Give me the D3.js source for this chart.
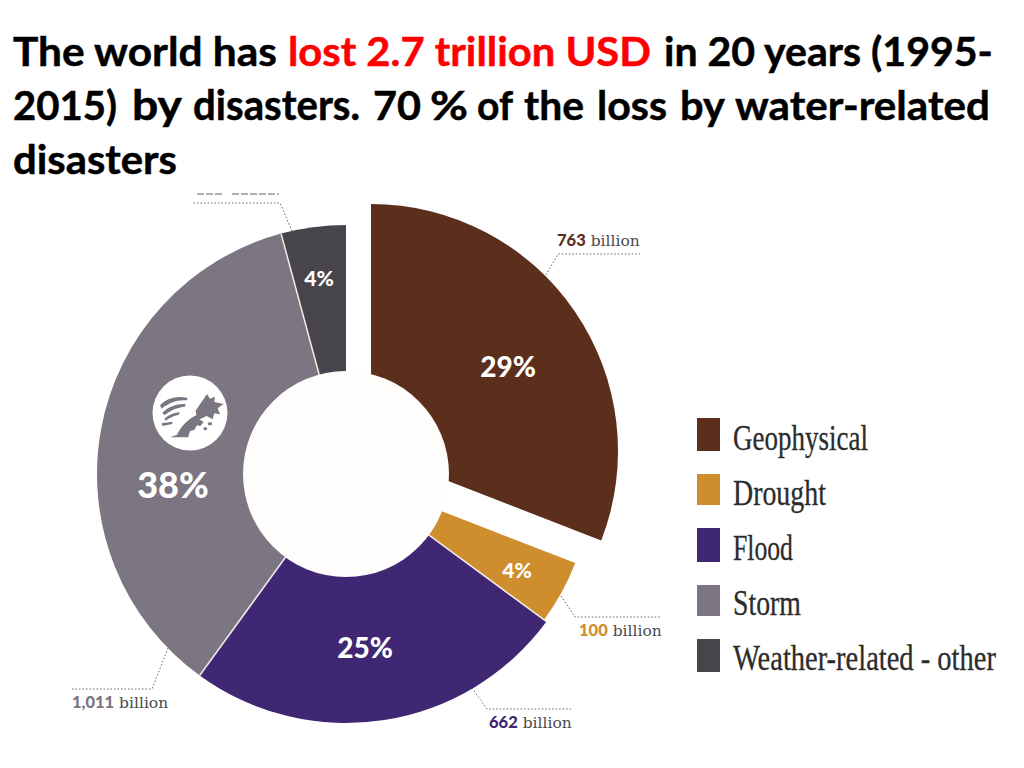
<!DOCTYPE html>
<html>
<head>
<meta charset="utf-8">
<script src="https://cdn.jsdelivr.net/npm/d3@7"></script>
<style>
	html, body { margin: 0; padding: 0; background: #fff; }
	svg { display: block; }
	.title { font-family: Lato, sans-serif; font-weight: 700; font-size: 41px; stroke-width: 0.5; }
	.pct { font-family: Lato, sans-serif; font-weight: 900; fill: #fff; text-anchor: middle; }
	.amount { font-family: "DejaVu Serif", serif; font-size: 15.5px; fill: #4a4a4f; }
	.amount .num { font-family: Lato, sans-serif; font-weight: 900; font-size: 16.5px; }
	.legendText { font-family: "Liberation Serif", serif; font-size: 36px; fill: #2c2c2c; stroke: #2c2c2c; stroke-width: 0.3; }
	.leader { fill: none; stroke: #666; stroke-width: 1; stroke-dasharray: 1.5 2; }
</style>
</head>
<body>
<script>
//values
var categories = ["Geophysical", "Drought", "Flood", "Storm", "Weather-related - other"];
var sliceShares = [30.9, 4.2, 24.9, 35.8, 4.2]; //share of the circle as drawn, %
var pctLabels = ["29%", "4%", "25%", "38%", "4%"];
var billions = ["763", "100", "662", "1,011"]; //fifth label is cut off by the title in the reference
var colors = ["#5c2f1d", "#cf8e2e", "#402773", "#7b7682", "#47454b"];
var titleWords = ["The world has", "lost 2.7 trillion USD", "in 20 years (1995-",
	"2015)", "by", "disasters.", "70", "%", "of", "the", "loss", "by", "water-related",
	"disasters"];
var titleColors = ["#000", "#ff0000", "#000", "#000", "#000", "#000", "#000", "#000", "#000", "#000", "#000", "#000", "#000", "#000"];

window.onload = setChart();

function setChart(){

	var w = 1024;
	var h = 768;

	var svg = d3.select("body")
		.append("svg")
		.attr("width", w)
		.attr("height", h);

	//PIE
	var cx = 346, cy = 474;
	var holeR = 103;
	var sliceR = [247, 246, 249, 249, 249];
	var explode = [25, -23]; //only the first slice is pulled out

	var pie = d3.pie().sort(null)(sliceShares);
	var arc = d3.arc().innerRadius(0);

	var chart = svg.append("g")
		.attr("transform", "translate(" + cx + "," + cy + ")");

	chart.selectAll(".slice")
		.data(pie)
		.enter()
		.append("path")
		.attr("class", "slice")
		.attr("d", function(d, i){ return arc.outerRadius(sliceR[i])(d); })
		.attr("fill", function(d, i){ return colors[i]; })
		.attr("transform", function(d, i){
			return i == 0 ? "translate(" + explode + ")" : null;
		});

	//thin pale lines between the slices that touch
	chart.selectAll(".divider")
		.data(pie.slice(2))
		.enter()
		.append("line")
		.attr("class", "divider")
		.attr("x2", function(d){ return 249 * Math.sin(d.startAngle); })
		.attr("y2", function(d){ return -249 * Math.cos(d.startAngle); })
		.attr("stroke", "#f3ece6")
		.attr("stroke-width", 1.5);

	//the hole is cut after the slices so the pulled slice gets the same curve
	chart.append("circle")
		.attr("r", holeR)
		.attr("fill", "#fffdfb");

	//percent labels
	var pctSpots = [[508, 377, 28], [517, 578, 21], [365, 658, 28], [173, 498, 36], [319, 286, 21]];
	svg.selectAll(".pct")
		.data(pctLabels)
		.enter()
		.append("text")
		.attr("class", "pct")
		.attr("x", function(d, i){ return pctSpots[i][0]; })
		.attr("y", function(d, i){ return pctSpots[i][1]; })
		.attr("font-size", function(d, i){ return pctSpots[i][2]; })
		.text(function(d){ return d; });

	//storm icon, drawn in 3x pixels
	svg.append("circle")
		.attr("cx", 190).attr("cy", 413).attr("r", 37.5)
		.attr("fill", "#fff");
	var icon = svg.append("g")
		.attr("transform", "translate(145,380) scale(0.3333)")
		.attr("fill", "#7b7682");
	var iconShapes = [
		"M45,76 C65,54 98,46 128,54 L126,61 C98,58 72,68 50,86 Z",
		"M52,98 C72,78 98,70 122,72 L120,80 C98,82 78,90 58,106 Z",
		"M58,116 C72,104 88,98 104,97 L102,104 C90,106 76,112 62,122 Z",
		"M50,130 L82,125 L82,132 L52,138 Z",
		"M76,172 L96,164 C106,146 120,122 154,106 L152,92 L168,68 L186,42 L195,56 L210,50 L208,66 L236,72 L218,85 L225,103 L208,100 L203,118 L185,108 L168,116 C150,124 134,146 130,172 Z",
		"M132,146 C138,130 148,120 160,116 L176,126 L166,138 L156,136 L148,150 L132,154 Z",
		"M188,128 L200,126 L200,136 L190,136 Z",
		"M176,142 L186,142 L186,150 L176,150 Z"
	];
	icon.selectAll("path")
		.data(iconShapes)
		.enter()
		.append("path")
		.attr("d", function(d){ return d; });

	//LEADERS AND AMOUNTS
	var leaders = [
		[[546, 275], [558, 254], [640, 254]],
		[[561, 596], [575, 617], [660, 617]],
		[[472, 688], [487, 709], [571, 709]],
		[[168, 648], [152, 689], [72, 689]],
		[[292, 231], [280, 203], [192, 203]]
	];
	var line = d3.line();
	svg.selectAll(".leader")
		.data(leaders)
		.enter()
		.append("path")
		.attr("class", "leader")
		.attr("d", line);

	var amountSpots = [[557, 246], [579, 636], [489, 728], [72, 708]];
	var amounts = svg.selectAll(".amount")
		.data(billions)
		.enter()
		.append("text")
		.attr("class", "amount")
		.attr("x", function(d, i){ return amountSpots[i][0]; })
		.attr("y", function(d, i){ return amountSpots[i][1]; });
	amounts.append("tspan")
		.attr("class", "num")
		.style("fill", function(d, i){ return colors[i]; })
		.text(function(d){ return d; });
	amounts.append("tspan")
		.text(" billion");

	//what is left of the cut off label
	svg.selectAll(".cutLabel")
		.data([[197, 222], [232, 279]])
		.enter()
		.append("line")
		.attr("class", "cutLabel")
		.attr("x1", function(d){ return d[0]; })
		.attr("x2", function(d){ return d[1]; })
		.attr("y1", 194).attr("y2", 194)
		.attr("stroke", "#999")
		.attr("stroke-width", 1.5)
		.attr("stroke-dasharray", "7 2");

	//LEGEND
	var legendY = [418, 474, 528, 585, 639];
	var legendH = [33, 31, 34, 31, 33];
	var legendBase = [450, 505, 560, 615, 670];
	var legendW = [135, 93, 60, 68, 263];

	svg.selectAll(".legendBox")
		.data(categories)
		.enter()
		.append("rect")
		.attr("class", "legendBox")
		.attr("x", 697)
		.attr("y", function(d, i){ return legendY[i]; })
		.attr("width", 23)
		.attr("height", function(d, i){ return legendH[i]; })
		.attr("fill", function(d, i){ return colors[i]; });

	//squeeze each entry to the narrow width of the original
	svg.selectAll(".legendText")
		.data(categories)
		.enter()
		.append("text")
		.attr("class", "legendText")
		.text(function(d){ return d; })
		.attr("transform", function(d, i){
			var sx = legendW[i] / this.getComputedTextLength();
			return "translate(733," + legendBase[i] + ") scale(" + sx + ",1)";
		});

	//TITLE
	//each word is fitted on its own, Lato runs wider than the original face
	var titleSpots = [
		[13, 66, 264], [288, 66, 363], [664, 66, 329],
		[13, 120, 104], [132, 120, 50], [193, 120, 167], [373, 120, 48], [430, 120, 38], [477, 120, 36],
		[524, 120, 60], [597, 120, 70], [680, 120, 45], [735, 120, 255],
		[13, 174, 164]
	];
	svg.selectAll(".title")
		.data(titleWords)
		.enter()
		.append("text")
		.attr("class", "title")
		.attr("fill", function(d, i){ return titleColors[i]; })
		.attr("stroke", function(d, i){ return titleColors[i]; })
		.text(function(d){ return d; })
		.attr("transform", function(d, i){
			var s = titleSpots[i];
			return "translate(" + s[0] + "," + s[1] + ") scale(" + (s[2] / this.getComputedTextLength()) + ",1)";
		});
};
</script>
</body>
</html>
